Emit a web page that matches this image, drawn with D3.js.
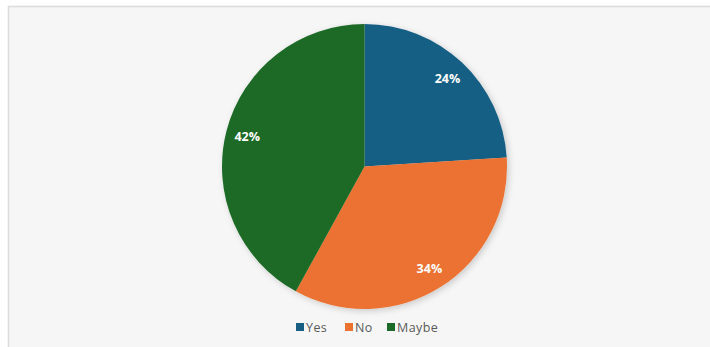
<!DOCTYPE html>
<html>
<head>
<meta charset="utf-8">
<script src="https://cdn.jsdelivr.net/npm/d3@7"></script>
<style>
  html, body { margin: 0; padding: 0; background: #ffffff; }
  svg { display: block; }
</style>
</head>
<body>
<svg id="chart" width="710" height="347"></svg>
<script>
// Survey answers and their shares (percent)
const categories = ["Yes", "No", "Maybe"];
const shares = [24, 34, 42];
const colors = ["#195f84", "#eb7230", "#1d6b28"];

const svg = d3.select("#chart");
const W = 710, H = 347;

// Chart panel
svg.append("rect")
  .attr("x", 8.5).attr("y", 6.5)
  .attr("width", W).attr("height", H)
  .attr("fill", "#f6f6f6")
  .attr("stroke", "#dcdcdc")
  .attr("stroke-width", 1.5);

// Soft shadow under the pie
const defs = svg.append("defs");
const f = defs.append("filter").attr("id", "shadow")
  .attr("x", "-20%").attr("y", "-20%").attr("width", "140%").attr("height", "140%");
f.append("feDropShadow")
  .attr("dx", 2).attr("dy", 2).attr("stdDeviation", 3)
  .attr("flood-color", "#000").attr("flood-opacity", 0.18);

const cx = 364.5, cy = 166.5, r = 142.5;
const data = categories.map((c, i) => ({ cat: c, value: shares[i] }));

const pie = d3.pie().sort(null).value(d => d.value);
const arc = d3.arc().innerRadius(0).outerRadius(r);
const labelArc = d3.arc().innerRadius(r * 0.85).outerRadius(r * 0.85);
const color = d3.scaleOrdinal().domain(categories).range(colors);

const g = svg.append("g").attr("transform", `translate(${cx},${cy})`);
const arcs = pie(data);

g.append("g").attr("filter", "url(#shadow)")
  .selectAll("path")
  .data(arcs)
  .join("path")
  .attr("d", arc)
  .attr("fill", d => color(d.data.cat));

g.selectAll("text")
  .data(arcs)
  .join("text")
  .attr("transform", d => `translate(${labelArc.centroid(d)})`)
  .attr("text-anchor", "middle")
  .attr("dominant-baseline", "central")
  .attr("font-family", "'Open Sans', Roboto, sans-serif")
  .attr("font-weight", "bold")
  .attr("font-size", 12.5)
  .attr("fill", "#ffffff")
  .text(d => d.data.value + "%");

// Legend
const legend = svg.append("g").attr("transform", `translate(296, 327)`);
const offsets = [0, 49, 91];
const items = legend.selectAll("g")
  .data(categories)
  .join("g")
  .attr("transform", (d, i) => `translate(${offsets[i]},0)`);
items.append("rect")
  .attr("x", 0).attr("y", -4)
  .attr("width", 8).attr("height", 8)
  .attr("fill", d => color(d));
items.append("text")
  .attr("x", 10).attr("y", 0.5)
  .attr("dominant-baseline", "central")
  .attr("font-family", "'Open Sans', Roboto, sans-serif")
  .attr("font-size", 12.5)
  .attr("letter-spacing", 0.4)
  .attr("fill", "#5a5a5a")
  .text(d => d);
</script>
</body>
</html>
